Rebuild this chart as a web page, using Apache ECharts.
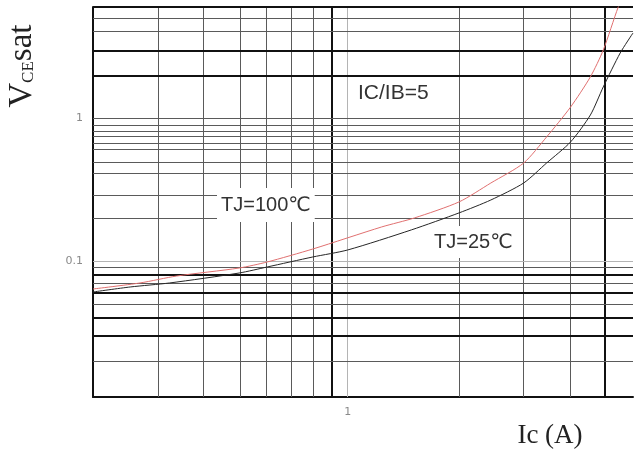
<!DOCTYPE html>
<html>
<head>
    <meta charset="UTF-8">
    <title>VCEsat - Ic</title>
    <script src="https://cdn.jsdelivr.net/npm/echarts/dist/echarts.min.js"></script>
    <style>
        html, body { margin: 0; padding: 0; background: #fff; }
        #main { width: 636px; height: 455px; }
    </style>
</head>
<body>
<div id="main"></div>
<script>
    // 曲线数据
    var ic100 = [0.1, 0.153, 0.213, 0.375, 0.483, 0.73, 1.36, 1.83, 2.74, 3.65, 4.91, 6.04, 7.5, 8.98, 10.09, 11.55, 11.97];
    var vce100 = [0.0637, 0.0702, 0.0785, 0.0893, 0.0984, 0.1213, 0.173, 0.2, 0.259, 0.351, 0.484, 0.736, 1.19, 1.94, 2.99, 5.97, 6.69];
    var ic25 = [0.1, 0.14, 0.2, 0.375, 0.483, 0.73, 1.0, 1.78, 2.74, 3.65, 4.91, 6.04, 7.5, 8.98, 10.09, 11.76, 13.2];
    var vce25 = [0.0607, 0.0658, 0.0702, 0.0824, 0.0908, 0.1067, 0.1194, 0.165, 0.217, 0.267, 0.351, 0.484, 0.679, 1.05, 1.65, 2.85, 3.93];

    // 坐标范围与刻度
    var xRange = [0.1, 13.2];
    var yRange = [0.01119, 5.973];
    var xTickLabels = [1];
    var yTickLabels = [0.1, 1];

    // 网格线位置
    var xThinGrid = [0.178, 0.274, 0.375, 0.483, 0.604, 0.73, 2.74, 4.91, 7.5];
    var xThickGrid = [0.866, 10.27];
    var xFaintGrid = [1];
    var yThinGrid = [5.0, 4.06, 1, 0.893, 0.811, 0.736, 0.669, 0.597, 0.492, 0.413, 0.294, 0.1966, 0.0893, 0.069, 0.05, 0.0197];
    var yThickGrid = [5.973, 2.94, 1.967, 0.0798, 0.0597, 0.0399, 0.0304];
    var yFaintGrid = [0.1];

    function pair(xs, ys) {
        return xs.map(function (x, i) { return [x, ys[i]]; });
    }

    function labelOf(list) {
        return function (v) {
            for (var i = 0; i < list.length; i++) {
                if (Math.abs(v / list[i] - 1) < 1e-6) return String(list[i]);
            }
            return '';
        };
    }

    var thin = { color: '#5a5a5a', width: 1, type: 'solid' };
    var thick = { color: '#111', width: 2, type: 'solid' };
    var faint = { color: '#b4b4b4', width: 1, type: 'solid' };

    var gridLines = [];
    xThinGrid.forEach(function (v) { gridLines.push({ xAxis: v, lineStyle: thin }); });
    xThickGrid.forEach(function (v) { gridLines.push({ xAxis: v, lineStyle: thick }); });
    xFaintGrid.forEach(function (v) { gridLines.push({ xAxis: v, lineStyle: faint }); });
    yThinGrid.forEach(function (v) { gridLines.push({ yAxis: v, lineStyle: thin }); });
    yThickGrid.forEach(function (v) { gridLines.push({ yAxis: v, lineStyle: thick }); });
    yFaintGrid.forEach(function (v) { gridLines.push({ yAxis: v, lineStyle: faint }); });

    var myChart = echarts.init(document.getElementById('main'));

    var option = {
        backgroundColor: '#fff',
        animation: false,
        grid: { left: 93, right: 0, top: 7, bottom: 58 },
        xAxis: {
            type: 'log',
            logBase: 10,
            min: xRange[0],
            max: xRange[1],
            axisLine: { show: true, lineStyle: { color: '#111', width: 2 } },
            axisTick: { show: false },
            splitLine: { show: false },
            axisLabel: {
                margin: 10,
                color: '#8a8a8a',
                fontSize: 11,
                fontFamily: 'DejaVu Sans',
                formatter: labelOf(xTickLabels)
            }
        },
        yAxis: {
            type: 'log',
            logBase: 10,
            min: yRange[0],
            max: yRange[1],
            axisLine: { show: true, lineStyle: { color: '#111', width: 2 } },
            axisTick: { show: false },
            splitLine: { show: false },
            axisLabel: {
                margin: 10,
                color: '#8a8a8a',
                fontSize: 11,
                fontFamily: 'DejaVu Sans',
                formatter: labelOf(yTickLabels)
            }
        },
        series: [
            {
                name: 'TJ=25℃',
                type: 'line',
                z: 3,
                data: pair(ic25, vce25),
                smooth: 0.25,
                showSymbol: false,
                lineStyle: { color: '#262626', width: 1 },
                markLine: {
                    z: 1,
                    silent: true,
                    symbol: ['none', 'none'],
                    label: { show: false },
                    data: gridLines
                }
            },
            {
                name: 'TJ=100℃',
                type: 'line',
                z: 3,
                data: pair(ic100, vce100),
                smooth: 0.25,
                showSymbol: false,
                lineStyle: { color: '#e07070', width: 1 }
            }
        ],
        graphic: [
            {
                type: 'text', z: 20, x: 22, y: 66, rotation: Math.PI / 2,
                style: {
                    text: '{v|V}{ce|CE}{s|sat}',
                    align: 'center', verticalAlign: 'middle',
                    fill: '#222',
                    rich: {
                        v: { fontFamily: 'Liberation Serif', fontSize: 34, verticalAlign: 'bottom', fill: '#222' },
                        ce: { fontFamily: 'Liberation Serif', fontSize: 17, verticalAlign: 'bottom', padding: [0, 0, 2, 0], fill: '#222' },
                        s: { fontFamily: 'Liberation Serif', fontSize: 33, verticalAlign: 'bottom', fill: '#222' }
                    }
                }
            },
            {
                type: 'text', z: 20, x: 550, y: 436,
                style: {
                    text: 'Ic (A)',
                    align: 'center', verticalAlign: 'middle',
                    font: '27px "Liberation Serif"',
                    fill: '#222'
                }
            },
            {
                type: 'text', z: 20, x: 358, y: 93,
                style: {
                    text: 'IC/IB=5',
                    align: 'left', verticalAlign: 'middle',
                    font: '21px "Liberation Sans", "DejaVu Sans"',
                    fill: '#333'
                }
            },
            {
                type: 'text', z: 20, x: 217, y: 205,
                style: {
                    text: 'TJ=100℃',
                    align: 'left', verticalAlign: 'middle',
                    font: '20px "Liberation Sans", "DejaVu Sans"',
                    fill: '#333',
                    backgroundColor: '#fff',
                    padding: [7, 4, 7, 4]
                }
            },
            {
                type: 'text', z: 20, x: 431, y: 242,
                style: {
                    text: 'TJ=25℃',
                    align: 'left', verticalAlign: 'middle',
                    font: '20px "Liberation Sans", "DejaVu Sans"',
                    fill: '#333',
                    backgroundColor: '#fff',
                    padding: [6, 4, 6, 3]
                }
            }
        ]
    };

    myChart.setOption(option);
</script>
</body>
</html>
